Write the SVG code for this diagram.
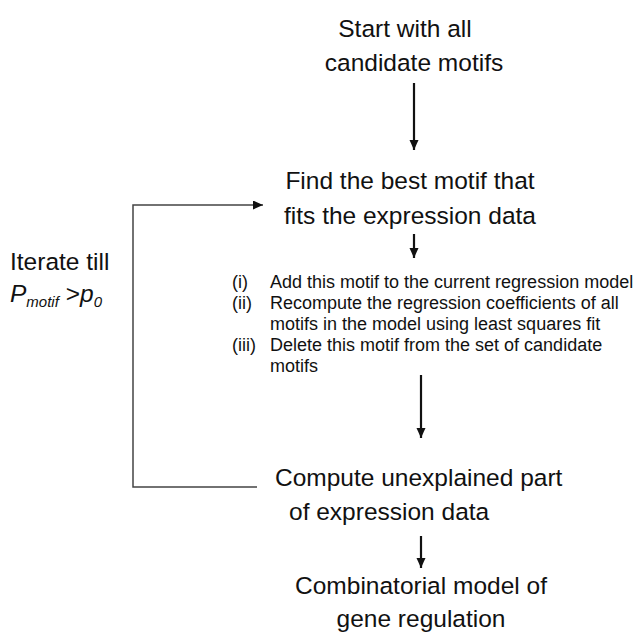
<svg xmlns="http://www.w3.org/2000/svg" width="640" height="632" viewBox="0 0 640 632">
<style>
.t{font-family:"Liberation Sans",Arial,Helvetica,sans-serif;font-size:24.5px;fill:#111;}
.m{text-anchor:middle;}
.l{font-family:"Liberation Sans",Arial,Helvetica,sans-serif;font-size:18px;fill:#111;}
.c{stroke:#111;stroke-width:2.2;fill:none;}
.fb{stroke:#444;stroke-width:1.5;fill:none;}
</style>
<defs>
<marker id="ah" markerUnits="userSpaceOnUse" markerWidth="10" markerHeight="12" refX="10" refY="4.5" orient="auto">
<path d="M0,0 L10,4.5 L0,9 z" fill="#111"/>
</marker>
</defs>
<g id="connectors">
<line class="c" x1="414" y1="83" x2="414" y2="150" marker-end="url(#ah)"/>
<line class="c" x1="414" y1="234" x2="414" y2="258" marker-end="url(#ah)"/>
<line class="c" x1="421" y1="375" x2="421" y2="438" marker-end="url(#ah)"/>
<line class="c" x1="421" y1="536" x2="421" y2="568" marker-end="url(#ah)"/>
<path class="fb" d="M257,487 H133 V205 H263" marker-end="url(#ah)"/>
</g>
<g id="start">
<text class="t m" x="405" y="37">Start with all</text>
<text class="t m" x="414" y="71">candidate motifs</text>
</g>
<g id="find">
<text class="t m" x="410" y="189">Find the best motif that</text>
<text class="t m" x="410" y="224">fits the expression data</text>
</g>
<g id="iterate">
<text class="t" x="10" y="270">Iterate till</text>
<text class="t" x="10" y="302"><tspan font-style="italic">P</tspan><tspan font-style="italic" font-size="15" dy="5">motif</tspan><tspan dy="-5"> &gt;</tspan><tspan font-style="italic">p</tspan><tspan font-style="italic" font-size="15" dy="5">0</tspan></text>
</g>
<g id="steps">
<text class="l" x="232" y="288">(i)</text>
<text class="l" x="270" y="288">Add this motif to the current regression model</text>
<text class="l" x="232" y="309">(ii)</text>
<text class="l" x="270" y="309">Recompute the regression coefficients of all</text>
<text class="l" x="270" y="330">motifs in the model using least squares fit</text>
<text class="l" x="232" y="351">(iii)</text>
<text class="l" x="270" y="351">Delete this motif from the set of candidate</text>
<text class="l" x="270" y="372">motifs</text>
</g>
<g id="compute">
<text class="t" x="275" y="486">Compute unexplained part</text>
<text class="t" x="289" y="520">of expression data</text>
</g>
<g id="result">
<text class="t m" x="421" y="594">Combinatorial model of</text>
<text class="t m" x="421" y="627">gene regulation</text>
</g>
</svg>
